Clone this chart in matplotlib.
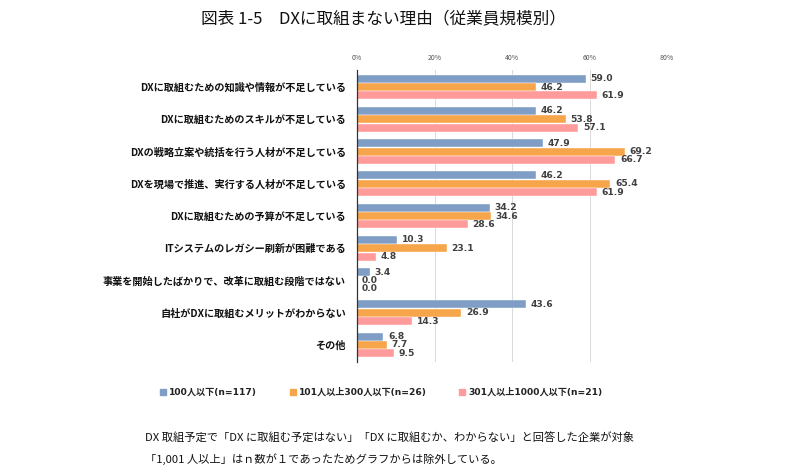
import matplotlib
matplotlib.use("Agg")
import matplotlib.pyplot as plt
import numpy as np

plt.rcParams['font.family'] = ['Noto Sans CJK JP', 'DejaVu Sans']

categories = [
    "DXに取組むための知識や情報が不足している",
    "DXに取組むためのスキルが不足している",
    "DXの戦略立案や統括を行う人材が不足している",
    "DXを現場で推進、実行する人材が不足している",
    "DXに取組むための予算が不足している",
    "ITシステムのレガシー刷新が困難である",
    "事業を開始したばかりで、改革に取組む段階ではない",
    "自社がDXに取組むメリットがわからない",
    "その他",
]
series_names = ["100人以下(n=117)", "101人以上300人以下(n=26)", "301人以上1000人以下(n=21)"]
s1 = [59.0, 46.2, 47.9, 46.2, 34.2, 10.3, 3.4, 43.6, 6.8]
s2 = [46.2, 53.8, 69.2, 65.4, 34.6, 23.1, 0.0, 26.9, 7.7]
s3 = [61.9, 57.1, 66.7, 61.9, 28.6, 4.8, 0.0, 14.3, 9.5]
xticks = [0, 20, 40, 60, 80]
xtick_labels = ["0%", "20%", "40%", "60%", "80%"]

colors = ["#7f9dc5", "#f6a54b", "#ff9b9b"]

fig = plt.figure(figsize=(7.92, 4.75), dpi=100)
ax = fig.add_axes([0.4508, 0.2379, 0.3914, 0.6147])

y = np.arange(len(categories))
h = 0.26
for k, (vals, c) in enumerate(zip([s1, s2, s3], colors)):
    pos = y + (k - 1) * h
    ax.barh(pos, vals, height=h * 0.96, color=c, edgecolor="white", linewidth=0.3, zorder=3)
    for p, v in zip(pos, vals):
        ax.text(v + 1.2, p, f"{v:.1f}", va="center", ha="left", fontsize=6.6,
                fontweight="bold", color="#404040", zorder=4, family=["DejaVu Sans"])

ax.set_xlim(0, 80)
ax.set_ylim(len(categories) - 1 + 0.53, -0.53)
ax.set_xticks(xticks)
ax.set_xticklabels(xtick_labels, fontsize=5, color="#555555")
ax.xaxis.tick_top()
ax.tick_params(axis="x", length=0, pad=6)
ax.set_yticks(y)
ax.set_yticklabels(categories, fontsize=7.3, fontweight="bold", color="#111111")
ax.tick_params(axis="y", length=0, pad=8)
ax.grid(axis="x", color="#d9d9d9", linewidth=0.7, zorder=0)
for s in ["top", "right", "bottom"]:
    ax.spines[s].set_visible(False)
ax.spines["left"].set_color("#333333")
ax.spines["left"].set_linewidth(0.9)
ax.spines["left"].set_zorder(5)

fig.text(0.484, 0.958, "図表 1-5　DXに取組まない理由（従業員規模別）", ha="center", va="center",
         fontsize=12, color="#111111")

leg_x = [163, 293, 462]
for lx, name, c in zip(leg_x, series_names, colors):
    fig.patches.append(plt.Rectangle((lx / 792 - 0.004, 1 - 395 / 475), 6 / 792, 6 / 475,
                                     transform=fig.transFigure, color=c, figure=fig))
    fig.text(lx / 792 + 0.008, 1 - 392 / 475, name, ha="left", va="center",
             fontsize=6.6, fontweight="bold", color="#222222",
             family=["DejaVu Sans", "Noto Sans CJK JP"])

fig.text(145 / 792, 1 - 438 / 475,
         "DX 取組予定で「DX に取組む予定はない」「DX に取組むか、わからない」と回答した企業が対象",
         ha="left", va="center", fontsize=8.1, color="#111111")
fig.text(145 / 792, 1 - 459 / 475,
         "「1,001 人以上」はｎ数が１であったためグラフからは除外している。",
         ha="left", va="center", fontsize=8.1, color="#111111")

fig.savefig("out.png", dpi=100)
